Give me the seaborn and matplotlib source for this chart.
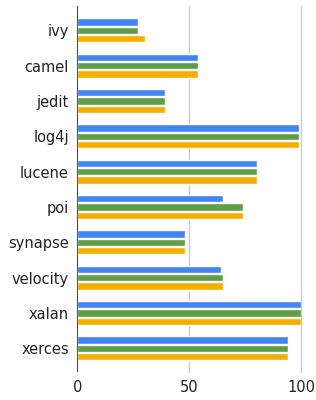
import matplotlib
matplotlib.use("Agg")
import matplotlib.pyplot as plt
import pandas as pd
import seaborn as sns

projects = ["ivy", "camel", "jedit", "log4j", "lucene", "poi",
            "synapse", "velocity", "xalan", "xerces"]
series_a = [27, 54, 39, 99, 80, 65, 48, 64, 100, 94]
series_b = [27, 54, 39, 99, 80, 74, 48, 65, 100, 94]
series_c = [30, 54, 39, 99, 80, 74, 48, 65, 100, 94]
series_names = ["A", "B", "C"]
colors = ["#4384F3", "#5E9E47", "#F5AD00"]

df = pd.DataFrame({"project": projects, "A": series_a, "B": series_b, "C": series_c})
long = df.melt(id_vars="project", var_name="series", value_name="value")

sns.set_theme(style="white")
plt.rcParams["font.family"] = ["DejaVu Sans"]

fig = plt.figure(figsize=(3.16, 4.0), dpi=100)
ax = fig.add_axes([77.3 / 316, 1 - 371.7 / 400, 224 / 316, 365.7 / 400])

sns.barplot(data=long, y="project", x="value", hue="series", order=projects,
            hue_order=series_names, palette=colors, width=0.705, gap=0.12,
            orient="h", ax=ax, legend=False, saturation=1)

ax.set_xlim(0, 100)
ax.set_ylim(9.66, -0.69)
ax.set_xticks([0, 50, 100])
ax.set_xlabel("")
ax.set_ylabel("")
for s in ["top", "right", "bottom", "left"]:
    ax.spines[s].set_visible(False)
ax.grid(axis="x", color="#cccccc", linewidth=1)
for gl in ax.get_xgridlines():
    gl.set_clip_on(False)
ax.set_axisbelow(True)
ax.axvline(0, color="#333333", linewidth=1.2, zorder=5)
ax.tick_params(axis="both", length=0, labelsize=10.5, colors="#222222")
ax.tick_params(axis="x", pad=6)
ax.tick_params(axis="y", pad=6)

fig.savefig("out.png", dpi=100)
